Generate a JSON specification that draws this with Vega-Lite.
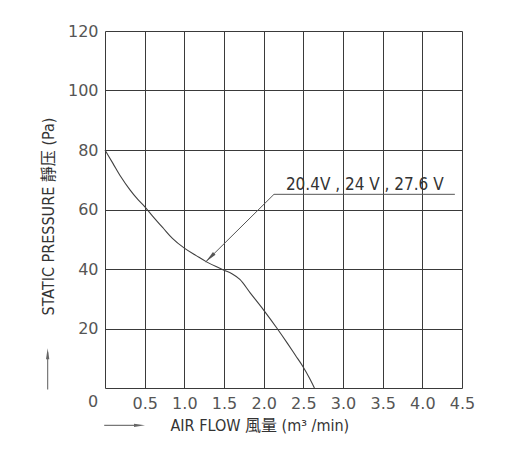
{
  "$schema": "https://vega.github.io/schema/vega-lite/v6.json",
  "width": 357,
  "height": 357,
  "autosize": {"type": "none"},
  "padding": {"left": 105, "top": 31, "right": 62, "bottom": 62},
  "background": "white",
  "config": {
    "view": {"stroke": null},
    "axis": {
      "gridColor": "#3a3a3a",
      "gridWidth": 1,
      "gridOpacity": 1,
      "domainColor": "#3a3a3a",
      "domainWidth": 1,
      "ticks": false,
      "labelFlush": false,
      "labelOverlap": false,
      "labelFont": "DejaVu Sans",
      "labelFontSize": 16,
      "labelColor": "#555555",
      "labelPadding": 7,
      "titleFont": "Liberation Sans Narrow, DejaVu Sans Condensed, Noto Sans CJK TC, sans-serif",
      "titleFontSize": 16,
      "titleFontWeight": "normal",
      "titleColor": "#333333"
    }
  },
  "layer": [
    {
      "data": {"values": [
        {"q": 0, "p": 80}, {"q": 0.1, "p": 75.5}, {"q": 0.2, "p": 71}, {"q": 0.315, "p": 66.6},
        {"q": 0.4, "p": 63.8}, {"q": 0.5, "p": 61}, {"q": 0.6, "p": 57.8}, {"q": 0.735, "p": 53.7},
        {"q": 0.85, "p": 50.3}, {"q": 1.0, "p": 47}, {"q": 1.15, "p": 44.5}, {"q": 1.28, "p": 42.4},
        {"q": 1.4, "p": 40.8}, {"q": 1.5, "p": 39.6}, {"q": 1.6, "p": 38.4}, {"q": 1.7, "p": 36.5},
        {"q": 1.83, "p": 32}, {"q": 2.0, "p": 26.2}, {"q": 2.17, "p": 20}, {"q": 2.3, "p": 15},
        {"q": 2.4, "p": 11}, {"q": 2.5, "p": 7}, {"q": 2.58, "p": 3.2}, {"q": 2.64, "p": 0}
      ]},
      "mark": {"type": "line", "color": "#404040", "strokeWidth": 1.1, "interpolate": "monotone", "clip": false},
      "encoding": {
        "x": {
          "field": "q", "type": "quantitative",
          "scale": {"domain": [0, 4.5], "nice": false, "zero": false},
          "axis": {
            "values": [0.5, 1, 1.5, 2, 2.5, 3, 3.5, 4, 4.5],
            "format": ".1f",
            "grid": true,
            "title": "AIR FLOW 風量 (m³ /min)",
            "titleX": 65,
            "titleY": 37,
            "titleAlign": "left",
            "titleBaseline": "middle",
            "titleAnchor": null
          }
        },
        "y": {
          "field": "p", "type": "quantitative",
          "scale": {"domain": [0, 120], "nice": false},
          "axis": {
            "values": [20, 40, 60, 80, 100, 120],
            "grid": true,
            "title": "STATIC PRESSURE 靜压 (Pa)",
            "titleX": -57,
            "titleY": 185,
            "titleAngle": -90,
            "titleAlign": "center",
            "titleBaseline": "middle",
            "titleAnchor": null
          }
        }
      }
    },
    {
      "data": {"values": [
        {"q": 1.27, "p": 42.4, "o": 1},
        {"q": 2.13, "p": 65.1, "o": 2},
        {"q": 4.41, "p": 65.1, "o": 3}
      ]},
      "mark": {"type": "line", "color": "#555555", "strokeWidth": 1, "clip": false},
      "encoding": {
        "x": {"field": "q", "type": "quantitative"},
        "y": {"field": "p", "type": "quantitative"},
        "order": {"field": "o"}
      }
    },
    {
      "data": {"values": [{"q": 1.27, "p": 42.4}]},
      "mark": {"type": "point", "shape": "M0,0L0.3,2L-0.3,2Z", "size": 144, "angle": 225, "filled": true, "color": "#555555", "opacity": 1, "clip": false},
      "encoding": {
        "x": {"field": "q", "type": "quantitative"},
        "y": {"field": "p", "type": "quantitative"}
      }
    },
    {
      "data": {"values": [
        {"q": -0.723, "p": -0.5, "q2": -0.723, "p2": 12},
        {"q": -0.01, "p": -12.56, "q2": 0.4, "p2": -12.56}
      ]},
      "mark": {"type": "rule", "color": "#777777", "strokeWidth": 1.2, "clip": false},
      "encoding": {
        "x": {"field": "q", "type": "quantitative"},
        "y": {"field": "p", "type": "quantitative"},
        "x2": {"field": "q2"},
        "y2": {"field": "p2"}
      }
    },
    {
      "data": {"values": [{"q": -0.723, "p": 13.4}]},
      "mark": {"type": "point", "shape": "M0,0L0.3,2L-0.3,2Z", "size": 121, "angle": 0, "filled": true, "color": "#666666", "opacity": 1, "clip": false},
      "encoding": {
        "x": {"field": "q", "type": "quantitative"},
        "y": {"field": "p", "type": "quantitative"}
      }
    },
    {
      "data": {"values": [{"q": 0.504, "p": -12.56}]},
      "mark": {"type": "point", "shape": "M0,0L0.3,2L-0.3,2Z", "size": 121, "angle": 90, "filled": true, "color": "#666666", "opacity": 1, "clip": false},
      "encoding": {
        "x": {"field": "q", "type": "quantitative"},
        "y": {"field": "p", "type": "quantitative"}
      }
    },
    {
      "data": {"values": [{"q": 2.28, "p": 68.2, "t": "20.4V , 24 V , 27.6 V"}]},
      "mark": {"type": "text", "align": "left", "baseline": "middle", "font": "Liberation Sans Narrow, DejaVu Sans Condensed, sans-serif", "fontSize": 17, "color": "#333333", "clip": false},
      "encoding": {
        "x": {"field": "q", "type": "quantitative"},
        "y": {"field": "p", "type": "quantitative"},
        "text": {"field": "t"}
      }
    },
    {
      "data": {"values": [{"q": 0, "p": 0, "t": "0"}]},
      "mark": {"type": "text", "align": "center", "baseline": "middle", "dx": -12, "dy": 14, "font": "DejaVu Sans", "fontSize": 16, "color": "#555555", "clip": false},
      "encoding": {
        "x": {"field": "q", "type": "quantitative"},
        "y": {"field": "p", "type": "quantitative"},
        "text": {"field": "t"}
      }
    }
  ]
}
